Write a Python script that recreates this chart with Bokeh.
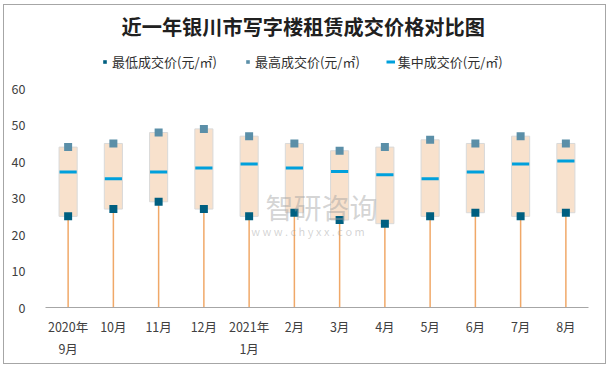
from bokeh.plotting import figure
from bokeh.models import Legend, LegendItem, FixedTicker, Range1d, ColumnDataSource
from bokeh.embed import file_html
from bokeh.resources import INLINE
from bokeh.core.properties import value

months = ["2020年\n9月", "10月", "11月", "12月", "2021年\n1月", "2月", "3月", "4月", "5月", "6月", "7月", "8月"]
low = [25, 27, 29, 27, 25, 26, 24, 23, 25, 26, 25, 26]
high = [44, 45, 48, 49, 47, 45, 43, 44, 46, 45, 47, 45]
mid = [37.2, 35.3, 37.2, 38.3, 39.4, 38.3, 37.3, 36.4, 35.3, 37.2, 39.4, 40.2]
y_ticks = [0, 10, 20, 30, 40, 50, 60]
title_text = "近一年银川市写字楼租赁成交价格对比图"
legend_labels = ["最低成交价(元/㎡)", "最高成交价(元/㎡)", "集中成交价(元/㎡)"]

FONT = "Noto Sans CJK SC"
xs = [i + 0.5 for i in range(len(months))]
src = ColumnDataSource(dict(x=xs, low=low, high=high, mid=mid, zero=[0] * len(xs)))

# frame spans the whole upper area (title and legend live inside it, above y=60)
p = figure(frame_width=543, frame_height=298, output_backend="svg", toolbar_location=None,
           x_range=Range1d(0, 12), y_range=Range1d(0, 81.75),
           min_border_left=41, min_border_right=17, min_border_bottom=56, min_border_top=4)
p.outline_line_color = None
p.xgrid.visible = False
p.ygrid.visible = False

# stems from 0 to the low value
p.segment(x0="x", y0="zero", x1="x", y1="low", source=src, line_color="#F0A868", line_width=1.5)
# range boxes
p.vbar(x="x", bottom="low", top="high", width=0.4, source=src,
       fill_color="#F8E1CC", line_color="#D9D9D9", line_width=1)
# median dash
p.rect(x="x", y="mid", width=0.38, height=3, height_units="screen", source=src,
       fill_color="#00A0DC", line_color=None)
lr = p.scatter(x="x", y="low", marker="square", size=8, source=src,
               fill_color="#005F80", line_color=None)
hr = p.scatter(x="x", y="high", marker="square", size=8, source=src,
               fill_color="#5B8FA8", line_color=None)
mr = p.line(x=[0.0, 0.0], y=[-5.0, -5.0], line_color="#00A0DC", line_width=3)

# watermark
p.text(x=[6.1], y=[27.7], text=["智研咨询"], text_font=value(FONT), text_font_size="28px",
       text_color="#A0A0A0", text_alpha=0.45, text_align="center", text_baseline="middle")
p.text(x=[5.8], y=[20.9], text=["w w w . c h y x x . c o m"], text_font=value(FONT),
       text_font_size="11px", text_color="#A0A0A0", text_alpha=0.45,
       text_align="center", text_baseline="middle")

# title
p.text(x=[5.695], y=[77.1], text=[title_text], text_font=value(FONT), text_font_size="20.2px",
       text_font_style="bold", text_color="#202020", text_align="center", text_baseline="middle")

# axes
p.xaxis.ticker = FixedTicker(ticks=xs)
p.xaxis.major_label_overrides = {x: m for x, m in zip(xs, months)}
p.xaxis.axis_line_color = "#A6A6A6"
p.xaxis.major_tick_line_color = None
p.xaxis.minor_tick_line_color = None
p.xaxis.major_label_text_font = FONT
p.xaxis.major_label_text_font_size = "12.5px"
p.xaxis.major_label_text_color = "#404040"
p.xaxis.major_label_standoff = 3

p.yaxis.ticker = FixedTicker(ticks=y_ticks)
p.yaxis.axis_line_color = None
p.yaxis.major_tick_line_color = None
p.yaxis.minor_tick_line_color = None
p.yaxis.major_label_text_font = FONT
p.yaxis.major_label_text_font_size = "12.5px"
p.yaxis.major_label_text_color = "#404040"
p.yaxis.major_label_standoff = 14

legend = Legend(items=[LegendItem(label=legend_labels[0], renderers=[lr]),
                       LegendItem(label=legend_labels[1], renderers=[hr]),
                       LegendItem(label=legend_labels[2], renderers=[mr])],
                orientation="horizontal", location=(55, 236),
                label_text_font=FONT, label_text_font_size="13px", label_text_color="#303030",
                glyph_width=9, glyph_height=9, label_standoff=3, spacing=26,
                padding=0, margin=0, border_line_color=None, background_fill_alpha=0)
p.add_layout(legend, "center")

p.styles = {"border": "1px solid #A6A6A6", "margin-left": "3px", "margin-top": "4px"}

open("out.html", "w").write(file_html(p, INLINE))
